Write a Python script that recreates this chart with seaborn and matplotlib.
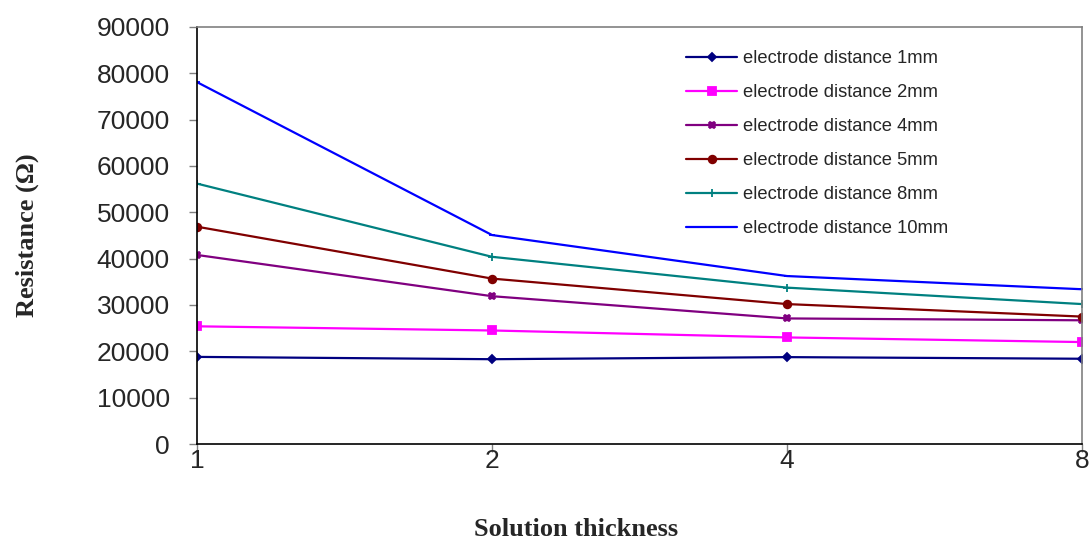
import matplotlib
matplotlib.use("Agg")
import matplotlib.pyplot as plt
import seaborn as sns
import pandas as pd

# ---- data ----
thickness = ["1", "2", "4", "8"]
series_names = [
    "electrode distance 1mm",
    "electrode distance 2mm",
    "electrode distance 4mm",
    "electrode distance 5mm",
    "electrode distance 8mm",
    "electrode distance 10mm",
]
d1mm = [18800, 18300, 18750, 18400]
d2mm = [25400, 24500, 23000, 22000]
d4mm = [40800, 31900, 27100, 26700]
d5mm = [46900, 35700, 30200, 27500]
d8mm = [56200, 40400, 33750, 30200]
d10mm = [78100, 45100, 36250, 33400]
yticks = [0, 10000, 20000, 30000, 40000, 50000, 60000, 70000, 80000, 90000]

values = [d1mm, d2mm, d4mm, d5mm, d8mm, d10mm]
colors = ["#000080", "#FF00FF", "#800080", "#800000", "#008080", "#0000FF"]
markers = ["D", "s", "X", "o", "+", "_"]
msizes = [4.5, 5.5, 5, 5.5, 6, 4]

sns.set_style("white")
plt.rcParams["font.family"] = ["Liberation Sans", "DejaVu Sans"]

fig = plt.figure(figsize=(10.9, 5.41), dpi=100)
ax = fig.add_axes([197 / 1090, 1 - 444 / 541, (1082 - 197) / 1090, (444 - 27) / 541])

for name, vals, c, m, ms in zip(series_names, values, colors, markers, msizes):
    df = pd.DataFrame({"thickness": thickness, "resistance": vals})
    sns.lineplot(data=df, x="thickness", y="resistance", ax=ax, color=c,
                 marker=m, markersize=ms, markeredgecolor=c, markerfacecolor=c,
                 markeredgewidth=1.3, linewidth=1.6, label=name, sort=False)

ax.set_xlim(0, 3)
ax.set_ylim(0, 90000)
ax.set_yticks(yticks)
ax.set_yticklabels([str(v) for v in yticks])

for side in ["left", "bottom"]:
    ax.spines[side].set_color("black")
    ax.spines[side].set_linewidth(1.2)
for side in ["top", "right"]:
    ax.spines[side].set_color("#808080")
    ax.spines[side].set_linewidth(1.2)

ax.tick_params(axis="y", direction="out", length=6, width=1, color="#808080",
               labelsize=19, pad=13.5, left=True)
ax.tick_params(axis="x", direction="out", length=6, width=1, color="#808080",
               labelsize=19, pad=-2.5, bottom=True)

ax.set_xlabel("Solution thickness", fontsize=19, fontweight="bold",
              family=["Liberation Serif", "DejaVu Serif"])
ax.set_ylabel("Resistance (\u03a9)", fontsize=19, fontweight="bold",
              family=["Liberation Serif", "DejaVu Serif"])
ax.xaxis.set_label_coords((576 - 197) / 885, -0.177)
ax.yaxis.set_label_coords(-0.178, 0.5)

leg = ax.legend(loc="upper left", bbox_to_anchor=(0.6226, 0.921),
                bbox_transform=fig.transFigure, frameon=False, fontsize=13.2,
                handlelength=2.8, handletextpad=0.3, labelspacing=0.93,
                borderaxespad=0)

fig.savefig("out.png", dpi=100)
